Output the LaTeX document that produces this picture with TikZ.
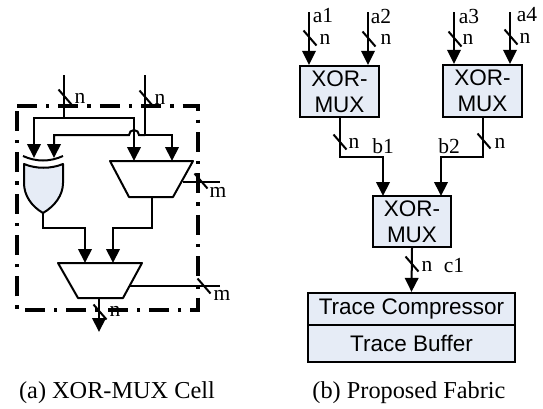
\documentclass[tikz,border=0pt]{standalone}
\usepackage{fontspec}
\setmainfont{Liberation Serif}
\newfontfamily\arialf{Liberation Sans}
\usetikzlibrary{arrows.meta}
\definecolor{pale}{HTML}{E6ECF6}
\tikzset{
  wire/.style={draw=black,line width=2pt},
  arrowwire/.style={wire,-{Triangle[length=14pt,width=13.5pt]}},
  frame/.style={draw=black,line width=3.4pt,dash pattern=on 20pt off 9pt on 3.4pt off 9pt},
  gate/.style={draw=black,line width=2pt,line join=round},
  blockbox/.style={draw=black,line width=2.2pt,fill=pale,inner sep=0pt,align=center,font=\arialf\fontsize{22.5}{26}\selectfont},
  lab/.style={inner sep=0pt,font=\fontsize{21.5}{24}\selectfont},
  captext/.style={inner sep=0pt,anchor=base,font=\fontsize{24.3}{27}\selectfont}
}
\newcommand{\wiretick}[2]{\draw[wire] (#1,#2) ++(-6.5,-7.5) -- ++(13,15);}
\begin{document}
\begin{tikzpicture}[x=1pt,y=-1pt]
\useasboundingbox (0,0) rectangle (543,408);
% ---------- panel (a)
\node[lab] (n3) at (115,311) {n};
\draw[frame] (17,106) -- (198,106) -- (198,310) -- (17,310) -- cycle;
\coordinate (inA) at (64,75);
\coordinate (inB) at (145,75);
\coordinate (busA) at (64,118);
\coordinate (busB) at (145,135);
\coordinate (xa) at (34,158);
\coordinate (xb) at (54,158);
\coordinate (ma) at (134,161);
\coordinate (mb) at (172,161);
% xor gate
\coordinate (xorOut) at (43,213);
\draw[gate] (23,156) .. controls (36,162) and (50,162) .. (63,156);
\draw[gate,fill=pale] (24,164) .. controls (36,169) and (51,169) .. (63,164) -- (63,183)
  .. controls (63,195) and (55,206) .. (xorOut) .. controls (31,206) and (24,195) .. (24,183) -- cycle;
% muxes
\coordinate (muxAout) at (152,197);
\coordinate (muxBin1) at (85,263);
\coordinate (muxBin2) at (113,263);
\coordinate (muxBout) at (99,298);
\draw[gate] (110,161) -- (193,161) -- (173,197) -- (129,197) -- cycle;
\draw[gate] (58,263) -- (142,263) -- (123,298) -- (78,298) -- cycle;
% wires
\draw[wire] (inA) -- (busA);
\draw[wire] (inB) -- (busB);
\draw[arrowwire] (busA) -| (xa);
\draw[arrowwire] (busA) -| (ma);
\draw[arrowwire] (busB) -- (mb |- busB) -- (mb);
\draw[arrowwire] (busB) -- (139,135) arc[start angle=360,end angle=180,radius=5] -- (xb |- busB) -- (xb);
\draw[arrowwire] (xorOut) -- (43,228) -| (muxBin1);
\draw[arrowwire] (muxAout) -- (152,228) -| (muxBin2);
\coordinate (outA) at (99,332);
\coordinate (sideA) at (220,182);
\coordinate (sideB) at (220,286);
\draw[wire] (183,182) -- (sideA);
\draw[wire] (129,286) -- (sideB);
\node[lab] (n1) at (80,98) {n};
\node[lab] (n2) at (160,99) {n};
\node[lab] (m1) at (218,192) {m};
\node[lab] (m2) at (222,295) {m};
\draw[arrowwire] (muxBout) -- (outA);
\wiretick{65}{97}
\wiretick{146}{98}
\wiretick{201}{181}
\wiretick{204}{286}
\wiretick{100}{312}
\node[captext] (capA) at (117,398) {(a) XOR-MUX Cell};
% ---------- panel (b)
\node[blockbox,minimum width=79pt,minimum height=51pt] (box1) at (339.5,91.5) {XOR-\\MUX};
\node[blockbox,minimum width=79pt,minimum height=52pt] (box2) at (482.5,91) {XOR-\\MUX};
\node[blockbox,minimum width=78pt,minimum height=51pt] (box3) at (412,221.5) {XOR-\\MUX};
\node[blockbox,minimum width=207pt,minimum height=32pt] (comp) at (411.5,309) {Trace Compressor};
\node[blockbox,minimum width=207pt,minimum height=37pt] (buff) at (411.5,343.5) {Trace Buffer};
\coordinate (a1in) at (309,12);
\coordinate (a2in) at (368,12);
\coordinate (a3in) at (454,12);
\coordinate (a4in) at (510,12);
\draw[arrowwire] (a1in) -- (a1in |- box1.north);
\draw[arrowwire] (a2in) -- (a2in |- box1.north);
\draw[arrowwire] (a3in) -- (a3in |- box2.north);
\draw[arrowwire] (a4in) -- (a4in |- box2.north);
\coordinate (b1in) at (383,196);
\coordinate (b2in) at (441,196);
\draw[arrowwire] (box1.south) -- (box1.south |- 0,157) -| (b1in);
\draw[arrowwire] (box2.south) -- (box2.south |- 0,157) -| (b2in);
\draw[arrowwire] (box3.south) -- (comp.north);
\wiretick{310}{38}
\wiretick{369}{39}
\wiretick{455}{39}
\wiretick{511}{37}
\wiretick{340}{142}
\wiretick{484}{141}
\wiretick{412}{264}
\node[lab] (a1) at (323,16) {a1};
\node[lab] (a2) at (381,16) {a2};
\node[lab] (a3) at (469,16) {a3};
\node[lab] (a4) at (527,15) {a4};
\node[lab] (n4) at (325,39) {n};
\node[lab] (n5) at (386,39) {n};
\node[lab] (n6) at (468,39) {n};
\node[lab] (n7) at (525,38) {n};
\node[lab] (n8) at (354,143) {n};
\node[lab] (n9) at (500,143) {n};
\node[lab] (b1) at (383,146) {b1};
\node[lab] (b2) at (449,146) {b2};
\node[lab] (n10) at (427,266) {n};
\node[lab] (c1) at (454,266) {c1};
\node[captext] (capB) at (409,398) {(b) Proposed Fabric};
\end{tikzpicture}
\end{document}
